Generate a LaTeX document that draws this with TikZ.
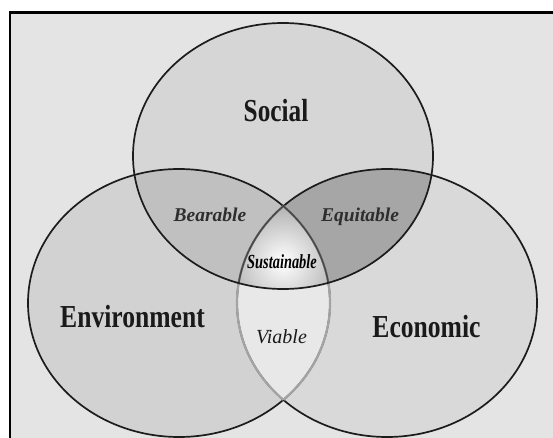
\documentclass[tikz,border=0pt]{standalone}
\usepackage{fontspec}
\setmainfont{Liberation Serif}
\usepackage{graphicx}
\definecolor{bgc}{HTML}{E4E4E4}
\definecolor{socc}{HTML}{D6D6D6}
\definecolor{envc}{HTML}{D2D2D2}
\definecolor{ecoc}{HTML}{D9D9D9}
\definecolor{bearc}{HTML}{C0C0C0}
\definecolor{equic}{HTML}{A6A6A6}
\definecolor{viac}{HTML}{E8E8E8}
\definecolor{susc}{HTML}{ABABAB}
\definecolor{linec}{HTML}{1C1C1C}
\definecolor{innerc}{HTML}{A4A4A4}
\definecolor{txtc}{HTML}{1A1A1A}
\definecolor{txtb}{HTML}{2E2E2E}
\begin{document}
\begin{tikzpicture}[x=1pt,y=-1pt,
  outl/.style={draw=linec, line width=1.7pt},
  inl/.style={draw=innerc, line width=2.2pt},
  lbl/.style={inner sep=0pt, anchor=base, text=txtc},
  bigf/.style={font=\fontsize{32}{32}\selectfont\bfseries},
  midf/.style={font=\fontsize{19.5}{20}\selectfont\bfseries\itshape, text=txtb},
]
\def\Soc{(283,156) ellipse [x radius=150, y radius=133]}
\def\Env{(179,303) ellipse [x radius=151, y radius=134]}
\def\Eco{(387,303) ellipse [x radius=150, y radius=134]}
\useasboundingbox (0,0) rectangle (553,438);
\fill[white] (0,0) rectangle (553,438);
\begin{scope}
\clip (10,12.5) rectangle (553,438);
\fill[bgc] (10,12.5) rectangle (553,438);
% region fills
\fill[socc] \Soc;
\fill[envc] \Env;
\fill[ecoc] \Eco;
\begin{scope}\clip \Env; \fill[viac] \Eco; \end{scope}
\begin{scope}\clip \Soc; \fill[bearc] \Env; \fill[equic] \Eco; \end{scope}
\begin{scope}\clip \Soc; \clip \Env; \clip \Eco;
  \shade[inner color=white, outer color=susc] (283,262) circle [radius=62];
\end{scope}
% outlines
\draw[outl] \Env;
\draw[outl] \Eco;
\begin{scope}\clip \Eco; \draw[inl] \Env; \end{scope}
\begin{scope}\clip \Env; \draw[inl] \Eco; \end{scope}
\begin{scope}\clip \Soc; \clip \Eco; \draw[outl, draw=linec!80] \Env; \end{scope}
\begin{scope}\clip \Soc; \clip \Env; \draw[outl, draw=linec!80] \Eco; \end{scope}
\draw[outl] \Soc;
\end{scope}
% frame
\draw[line width=2.5pt, draw=black] (10,438) -- (10,12.5) -- (553,12.5);
% labels
\node[lbl, bigf] (social) at (276,122) {\scalebox{0.79}[1]{Social}};
\node[lbl, bigf] (environment) at (132.5,327) {\scalebox{0.8}[1]{Environment}};
\node[lbl, bigf] (economic) at (426.5,337) {\scalebox{0.8}[1]{Economic}};
\node[lbl, midf] (bearable) at (210,222) {Bearable};
\node[lbl, midf] (equitable) at (360,222) {Equitable};
\node[lbl, font=\fontsize{20}{20}\selectfont\bfseries\itshape, text=black] (sustainable) at (282,268) {\scalebox{0.72}[1]{Sustainable}};
\node[lbl, font=\fontsize{20}{20}\selectfont\itshape] (viable) at (281.5,343) {Viable};
\end{tikzpicture}
\end{document}
